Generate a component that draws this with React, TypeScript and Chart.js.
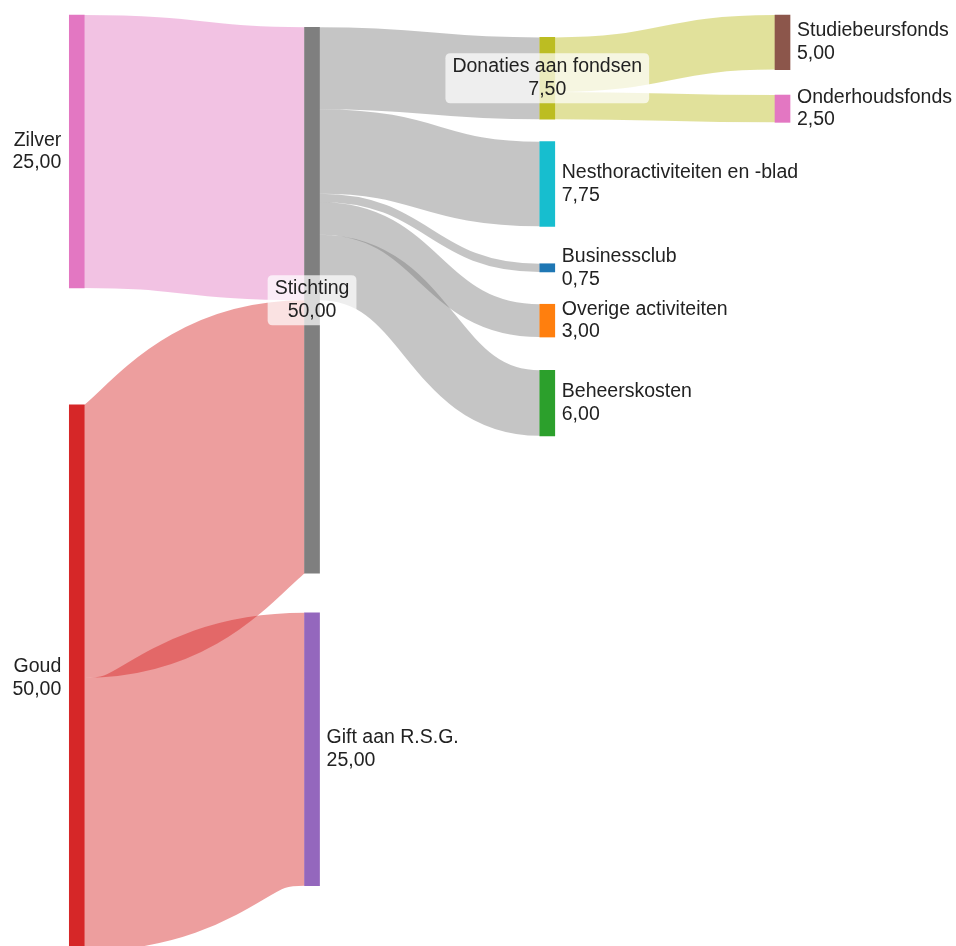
import React, { useEffect, useRef } from 'react';
import { Chart, registerables } from 'chart.js';

Chart.register(...registerables);

// ---- Data ----
const nodeNames = [
  'Zilver',
  'Goud',
  'Stichting',
  'Gift aan R.S.G.',
  'Donaties aan fondsen',
  'Nesthoractiviteiten en -blad',
  'Businessclub',
  'Overige activiteiten',
  'Beheerskosten',
  'Studiebeursfonds',
  'Onderhoudsfonds',
];
// column (stage) of each node
const nodeColumns = [0, 0, 1, 1, 2, 2, 2, 2, 2, 3, 3];
// top of each node on the value axis (floating range start, in value units)
const nodeOffsets = [0, 35.71, 1.12, 54.74, 2.05, 11.6, 22.78, 26.49, 32.54, 0, 7.33];
const nodeColors = [
  '#e377c2', '#d62728', '#7f7f7f', '#9467bd', '#bcbd22',
  '#17becf', '#1f77b4', '#ff7f0e', '#2ca02c', '#8c564b', '#e377c2',
];

const linkSources = [0, 1, 1, 2, 2, 2, 2, 2, 4, 4];
const linkTargets = [2, 2, 3, 4, 5, 6, 7, 8, 9, 10];
const linkValues = [25, 25, 25, 7.5, 7.75, 0.75, 3, 6, 5, 2.5];

// ---- Scale ranges ----
const X_MIN = -0.3265;
const X_MAX = 3.7375;
const Y_MIN = -1.374;
const Y_MAX = 85.26;

const FONT = '19.5px "Liberation Sans", Arial, Helvetica, sans-serif';
const LINK_ALPHA = 0.45;

function hexToRgba(hex: string, a: number) {
  const h = hex.replace('#', '');
  const r = parseInt(h.slice(0, 2), 16);
  const g = parseInt(h.slice(2, 4), 16);
  const b = parseInt(h.slice(4, 6), 16);
  return `rgba(${r},${g},${b},${a})`;
}

function fmt(v: number) {
  return v.toFixed(2).replace('.', ',');
}

function roundRect(ctx: CanvasRenderingContext2D, x: number, y: number, w: number, h: number, r: number) {
  ctx.beginPath();
  ctx.moveTo(x + r, y);
  ctx.lineTo(x + w - r, y);
  ctx.quadraticCurveTo(x + w, y, x + w, y + r);
  ctx.lineTo(x + w, y + h - r);
  ctx.quadraticCurveTo(x + w, y + h, x + w - r, y + h);
  ctx.lineTo(x + r, y + h);
  ctx.quadraticCurveTo(x, y + h, x, y + h - r);
  ctx.lineTo(x, y + r);
  ctx.quadraticCurveTo(x, y, x + r, y);
  ctx.closePath();
}

export default function App() {
  const ref = useRef<HTMLCanvasElement>(null);

  useEffect(() => {
    const canvas = ref.current;
    if (!canvas) return;
    const n = nodeNames.length;
    const inSum = new Array(n).fill(0);
    const outSum = new Array(n).fill(0);
    linkValues.forEach((v, k) => {
      outSum[linkSources[k]] += v;
      inSum[linkTargets[k]] += v;
    });
    const nodeValues = inSum.map((v, i) => Math.max(v, outSum[i]));

    // link attachment positions (value units)
    const linkIdx = linkValues.map((_, k) => k);
    const linkSy: number[] = [];
    const linkTy: number[] = [];
    for (let i = 0; i < n; i++) {
      const outs = linkIdx
        .filter((k) => linkSources[k] === i)
        .sort((a, b) => nodeOffsets[linkTargets[a]] - nodeOffsets[linkTargets[b]]);
      let acc = nodeOffsets[i];
      outs.forEach((k) => {
        linkSy[k] = acc;
        acc += linkValues[k];
      });
      const ins = linkIdx
        .filter((k) => linkTargets[k] === i)
        .sort((a, b) => nodeOffsets[linkSources[a]] - nodeOffsets[linkSources[b]]);
      acc = nodeOffsets[i];
      ins.forEach((k) => {
        linkTy[k] = acc;
        acc += linkValues[k];
      });
    }

    const nodeData = nodeNames.map((_, i) => ({
      x: nodeColumns[i],
      y: [nodeOffsets[i], nodeOffsets[i] + nodeValues[i]],
    }));

    const linkPlugin = {
      id: 'sankeyLinks',
      beforeDatasetsDraw(chart: any) {
        const ctx: CanvasRenderingContext2D = chart.ctx;
        const y = chart.scales.y;
        const meta = chart.getDatasetMeta(0);
        ctx.save();
        linkValues.forEach((v, k) => {
          const s: any = meta.data[linkSources[k]];
          const t: any = meta.data[linkTargets[k]];
          const x0 = s.x + s.width / 2;
          const x1 = t.x - t.width / 2;
          const y0 = y.getPixelForValue(linkSy[k] + v / 2);
          const y1 = y.getPixelForValue(linkTy[k] + v / 2);
          const w = Math.abs(y.getPixelForValue(linkSy[k] + v) - y.getPixelForValue(linkSy[k]));
          const xm = (x0 + x1) / 2;
          ctx.beginPath();
          ctx.moveTo(x0, y0);
          ctx.bezierCurveTo(xm, y0, xm, y1, x1, y1);
          ctx.lineWidth = w;
          ctx.lineCap = 'butt';
          ctx.strokeStyle = hexToRgba(nodeColors[linkSources[k]], LINK_ALPHA);
          ctx.stroke();
        });
        ctx.restore();
      },
    };

    const labelPlugin = {
      id: 'sankeyLabels',
      afterDatasetsDraw(chart: any) {
        const ctx: CanvasRenderingContext2D = chart.ctx;
        const meta = chart.getDatasetMeta(0);
        const lh = 22.6;
        ctx.save();
        ctx.font = FONT;
        ctx.textBaseline = 'middle';
        nodeNames.forEach((name, i) => {
          const el: any = meta.data[i];
          const cy = (el.y + el.base) / 2;
          const left = el.x - el.width / 2;
          const right = el.x + el.width / 2;
          const lines = [name, fmt(nodeValues[i])];
          const hasIn = inSum[i] > 0;
          const hasOut = outSum[i] > 0;
          let tx: number;
          if (!hasIn) {
            ctx.textAlign = 'right';
            tx = left - 8;
          } else if (!hasOut) {
            ctx.textAlign = 'left';
            tx = right + 7;
          } else {
            ctx.textAlign = 'center';
            tx = el.x;
            const tw = Math.max(...lines.map((l) => ctx.measureText(l).width));
            const bw = tw + 14;
            const bh = 50;
            ctx.fillStyle = 'rgba(255,255,255,0.7)';
            roundRect(ctx, tx - bw / 2, cy - bh / 2, bw, bh, 5);
            ctx.fill();
          }
          ctx.fillStyle = '#222222';
          ctx.fillText(lines[0], tx, cy - lh / 2);
          ctx.fillText(lines[1], tx, cy + lh / 2);
        });
        ctx.restore();
      },
    };

    const chart = new Chart(canvas, {
      type: 'bar',
      data: {
        datasets: [
          {
            data: nodeData as any,
            backgroundColor: nodeColors,
            borderWidth: 0,
            barThickness: 15,
          },
        ],
      },
      options: {
        responsive: false,
        animation: false,
        events: [],
        layout: { padding: 0 },
        plugins: {
          legend: { display: false },
          tooltip: { enabled: false },
          title: { display: false },
        },
        scales: {
          x: { type: 'linear', min: X_MIN, max: X_MAX, offset: false, display: false },
          y: { type: 'linear', reverse: true, min: Y_MIN, max: Y_MAX, display: false },
        },
      },
      plugins: [linkPlugin, labelPlugin],
    } as any);

    return () => chart.destroy();
  }, []);

  return (
    <div style={{ position: 'fixed', left: 0, top: 0, width: 956, height: 946, background: '#ffffff' }}>
      <canvas ref={ref} width={956} height={946} style={{ display: 'block' }} />
    </div>
  );
}
